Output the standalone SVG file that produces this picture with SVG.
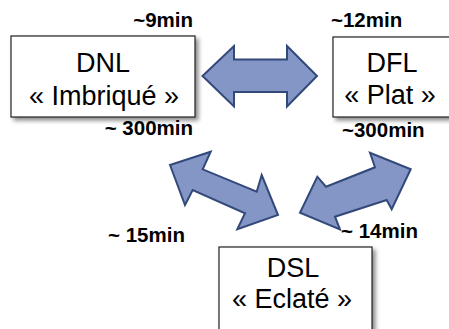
<svg xmlns="http://www.w3.org/2000/svg" width="449" height="329" viewBox="0 0 449 329">
<defs>
<filter id="sh" x="-10%" y="-10%" width="130%" height="140%">
<feDropShadow dx="3" dy="3" stdDeviation="2" flood-color="#000" flood-opacity="0.45"/>
</filter>
</defs>
<style>
.box{fill:#fff;stroke:#222;stroke-width:1.2;filter:url(#sh)}
.t{font-family:"Liberation Sans",Arial,sans-serif;font-size:27px;fill:#000;text-anchor:middle}
.l{font-family:"Liberation Sans",Arial,sans-serif;font-size:20.5px;font-weight:bold;fill:#000}
.arr{fill:#8496C6;stroke:#33497A;stroke-width:2;stroke-linejoin:miter}
</style>
<g id="connectors">
<polygon class="arr" points="202.5,76 234,46 234,59.5 287,59.5 287,46 317,76 287,106.5 287,92 234,92 234,106.5"/>
<polygon class="arr" points="170,165 210.7,151.7 202.7,169.3 256.7,191.7 261.7,175 278,215 237.3,229.3 245,213.3 192.7,190 185,205"/>
<polygon class="arr" points="410.7,169.3 370,152.7 375,167.3 326,186.7 317.3,176.7 300,212.7 340,229.3 335,216.7 386.7,200 391.7,209.3"/>
</g>
<g id="DNL">
<rect class="box" x="11" y="36" width="184" height="81"/>
<text class="t" x="103" y="72">DNL</text>
<text class="t" x="104" y="105">« Imbriqué »</text>
</g>
<g id="DFL">
<rect class="box" x="333" y="37" width="130" height="80"/>
<text class="t" x="392" y="72">DFL</text>
<text class="t" x="390" y="104">« Plat »</text>
</g>
<g id="DSL">
<rect class="box" x="219" y="247" width="153" height="90"/>
<text class="t" x="293" y="277">DSL</text>
<text class="t" x="292" y="308">« Eclaté »</text>
</g>
<g id="labels">
<text class="l" x="193" y="27" text-anchor="end">~9min</text>
<text class="l" x="331" y="27">~12min</text>
<text class="l" x="193" y="135" text-anchor="end">~ 300min</text>
<text class="l" x="342" y="137">~300min</text>
<text class="l" x="108" y="242">~ 15min</text>
<text class="l" x="341" y="238">~ 14min</text>
</g>
</svg>
